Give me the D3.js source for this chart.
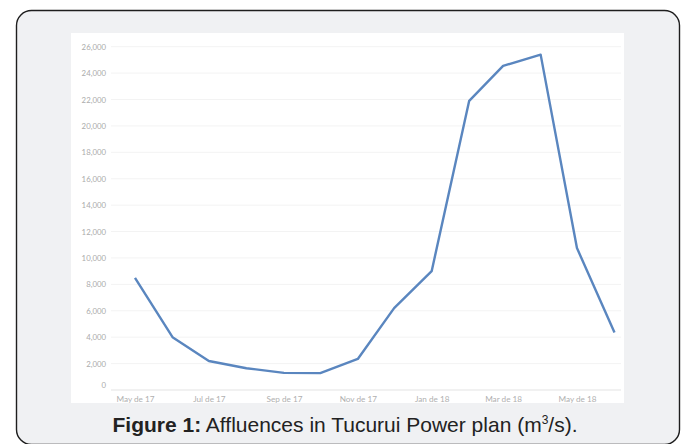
<!DOCTYPE html>
<html><head><meta charset="utf-8">
<script src="https://cdn.jsdelivr.net/npm/d3@7"></script>
<style>html,body{margin:0;padding:0;background:#fff;}svg{display:block;}</style>
</head><body>
<svg id="c" width="684" height="444"></svg>
<script>
const months = ["2017-05","2017-06","2017-07","2017-08","2017-09","2017-10","2017-11","2017-12","2018-01","2018-02","2018-03","2018-04","2018-05","2018-06"];
const affluence = [8500,4000,2200,1650,1300,1280,2350,6200,9000,21900,24550,25400,10750,4350];
const yTicks = [0,2000,4000,6000,8000,10000,12000,14000,16000,18000,20000,22000,24000,26000];
const xTickMonths = ["2017-05","2017-07","2017-09","2017-11","2018-01","2018-03","2018-05"];
const xTickLabels = ["May de 17","Jul de 17","Sep de 17","Nov de 17","Jan de 18","Mar de 18","May de 18"];
const caption = {bold:"Figure 1:", rest:" Affluences in Tucurui Power plan (m"};

const parse = d3.timeParse("%Y-%m");
const svg = d3.select("#c");

// frame
svg.append("rect").attr("x",16.5).attr("y",10.5).attr("width",663).attr("height",434)
  .attr("rx",15).attr("fill","#f0f1f3").attr("stroke","#1e1e1e").attr("stroke-width",1.4);
// white plot panel
svg.append("rect").attr("x",71).attr("y",33).attr("width",553).attr("height",370).attr("fill","#ffffff");

const x = d3.scaleTime().domain([parse("2017-05"), parse("2018-06")]).range([135, 614.5]);
const y = d3.scaleLinear().domain([0, 26000]).range([390, 46.7]);

// grid
const gx0 = 111, gx1 = 621;
svg.append("g").selectAll("line").data(yTicks).join("line")
  .attr("x1",gx0).attr("x2",gx1).attr("y1",d=>y(d)).attr("y2",d=>y(d))
  .attr("stroke",d=>d===0?"#e3e3e3":"#f3f3f3").attr("stroke-width",1);

// y axis labels
const yAxis = d3.axisLeft(y).tickValues(yTicks).tickSize(0).tickPadding(0).tickFormat(d3.format(","));
const gy = svg.append("g").attr("transform","translate(106,0)").call(yAxis);
gy.select(".domain").remove();
gy.selectAll("text").attr("font-family","Lato").attr("font-size",7.8).attr("fill","#ababab");
gy.selectAll(".tick").filter(d=>d===0).select("text").attr("dy","-0.3em");

// x axis labels
const xAxis = d3.axisBottom(x).tickValues(xTickMonths.map(parse)).tickSize(0).tickPadding(0)
  .tickFormat((d,i)=>xTickLabels[i]);
const gxA = svg.append("g").attr("transform","translate(0,396)").call(xAxis);
gxA.select(".domain").remove();
gxA.selectAll("text").attr("font-family","Lato").attr("font-size",8.2).attr("fill","#b0b0b0");

// line
const line = d3.line().x((d,i)=>x(parse(months[i]))).y(d=>y(d));
svg.append("path").datum(affluence).attr("d",line).attr("fill","none")
  .attr("stroke","#5a86bf").attr("stroke-width",2.4).attr("stroke-linejoin","round");

// caption
const t = svg.append("text").attr("x",345).attr("y",432).attr("text-anchor","middle")
  .attr("font-family","Liberation Sans, Arial, sans-serif").attr("font-size",21).attr("fill","#222");
t.append("tspan").attr("font-weight","bold").text(caption.bold);
t.append("tspan").text(caption.rest);
t.append("tspan").attr("font-size",12).attr("dy",-8).text("3");
t.append("tspan").attr("dy",8).text("/s).");
</script>
</body></html>
